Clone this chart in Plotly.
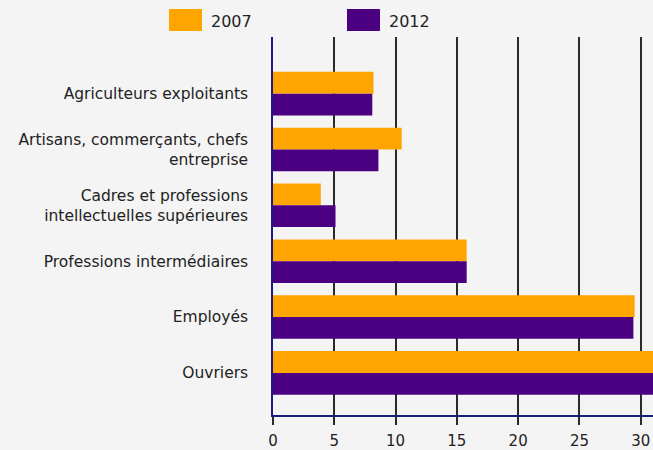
import plotly.graph_objects as go

categories = [
    "Agriculteurs exploitants",
    "Artisans, commerçants, chefs<br>entreprise",
    "Cadres et professions<br>intellectuelles supérieures",
    "Professions intermédiaires",
    "Employés",
    "Ouvriers",
]
values_2007 = [8.2, 10.5, 3.9, 15.8, 29.5, 32.5]
values_2012 = [8.1, 8.6, 5.1, 15.8, 29.4, 32.0]
series_names = ["2007", "2012"]
colors = ["#ffa500", "#4b0082"]
x_ticks = [0, 5, 10, 15, 20, 25, 30]

W, H = 653, 450
L, R, T, B = 273, 0, 37, 35
pw, ph = W - L - R, H - T - B

def px_x(p):
    return (p - L) / pw

def px_y(p):
    return (H - B - p) / ph

fig = go.Figure()
for name, vals, col in zip(series_names, [values_2007, values_2012], colors):
    fig.add_trace(go.Bar(y=categories, x=vals, name=name, orientation="h",
                         marker=dict(color=col, line=dict(width=0)),
                         showlegend=False, hoverinfo="skip"))

font_color = "#222222"
axis_col = "#1c1c80"

shapes = []
annotations = []
for name, col, x0 in zip(series_names, colors, [169, 347]):
    shapes.append(dict(type="rect", xref="paper", yref="paper",
                       x0=px_x(x0), x1=px_x(x0 + 33), y0=px_y(31), y1=px_y(9),
                       fillcolor=col, line=dict(width=0)))
    annotations.append(dict(text=name, xref="paper", yref="paper",
                            x=px_x(x0 + 40), y=px_y(21), xanchor="left", yanchor="middle",
                            showarrow=False, font=dict(size=16, color=font_color)))

fig.update_layout(
    width=W, height=H,
    margin=dict(l=L, r=R, t=T, b=B, pad=0),
    paper_bgcolor="#f4f4f4", plot_bgcolor="#f4f4f4",
    barmode="group", bargap=0.22, bargroupgap=0,
    font=dict(family="DejaVu Sans, Verdana, sans-serif", size=15, color=font_color),
    shapes=shapes, annotations=annotations,
    xaxis=dict(range=[0, 31], tickvals=x_ticks, showgrid=True, gridcolor="#2a2a2a",
               gridwidth=1.5, zeroline=False, showline=True, linecolor=axis_col, linewidth=1.5,
               ticks="outside", ticklen=8, tickwidth=1.5, tickcolor="#2a2a2a",
               ticklabelstandoff=3, tickfont=dict(size=15, color=font_color)),
    yaxis=dict(type="category", categoryorder="array", categoryarray=categories,
               range=[5.754, -1.014], showgrid=False, zeroline=False, showline=True,
               linecolor=axis_col, linewidth=1.5, ticks="", ticklabelstandoff=20,
               tickfont=dict(size=15.5, color=font_color)),
)

fig.write_html("out.html", config={"displayModeBar": False},
               post_script="document.body.style.margin='0';document.body.style.background='#f4f4f4';")
